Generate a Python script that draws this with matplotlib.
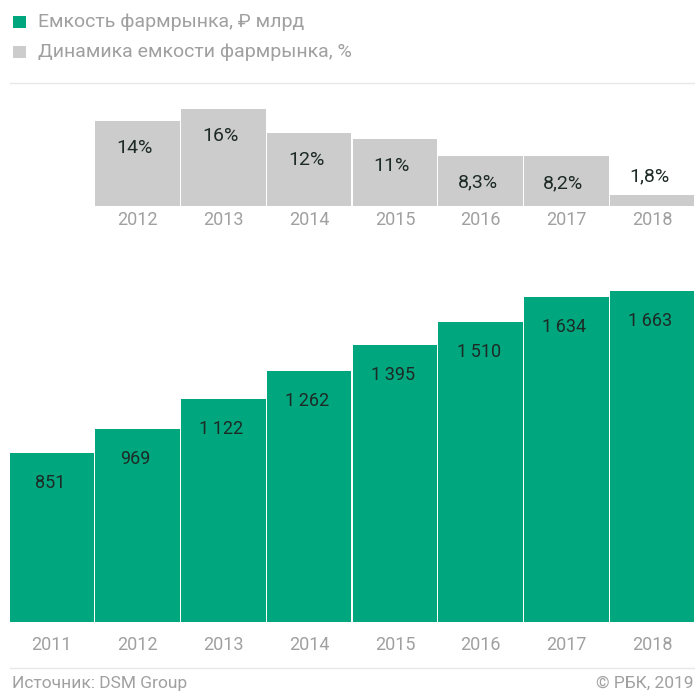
import matplotlib
matplotlib.use("Agg")
import matplotlib.pyplot as plt
from matplotlib.patches import Rectangle
from matplotlib.lines import Line2D

plt.rcParams['font.family'] = ['Roboto', 'DejaVu Sans']

# ---- data ----
years_volume = ['2011', '2012', '2013', '2014', '2015', '2016', '2017', '2018']
volume = [851, 969, 1122, 1262, 1395, 1510, 1634, 1663]
volume_labels = ['851', '969', '1\u2009122', '1\u2009262', '1\u2009395', '1\u2009510', '1\u2009634', '1\u2009663']

years_growth = ['2012', '2013', '2014', '2015', '2016', '2017', '2018']
growth = [14, 16, 12, 11, 8.3, 8.2, 1.8]
growth_labels = ['14%', '16%', '12%', '11%', '8,3%', '8,2%', '1,8%']

legend_labels = ['Емкость фармрынка, \u20bd млрд', 'Динамика емкости фармрынка, %']
source_text = 'Источник: DSM Group'
copyright_text = '© РБК, 2019'

GREEN = '#00a67d'
GRAY = '#cccccc'
TEXT_GRAY = '#a0a0a0'
LABEL_DARK = '#1d2a26'

W, H = 695, 693
fig = plt.figure(figsize=(W / 100, H / 100), dpi=100)
fig.patch.set_facecolor('white')


def px_rect(left, top, right, bottom):
    return [left / W, (H - bottom) / H, (right - left) / W, (bottom - top) / H]


# ---- bottom chart ----
ax = fig.add_axes(px_rect(9, 284, 695, 622))
xpos = list(range(len(years_volume)))
ax.bar(xpos, volume, width=0.985, color=GREEN, linewidth=0)
ax.set_xlim(-0.5, len(years_volume) - 0.5)
ax.set_ylim(0, 1700)
for x, v, lab in zip(xpos, volume, volume_labels):
    ax.annotate(lab, (x, v), xytext=(-2, -30), textcoords='offset pixels',
                ha='center', va='center', fontsize=13, color=LABEL_DARK)
ax.set_xticks(xpos)
ax.set_xticklabels(years_volume, fontsize=13, color=TEXT_GRAY)
ax.tick_params(axis='x', length=0, pad=10)
ax.set_yticks([])
for s in ax.spines.values():
    s.set_visible(False)
ax.patch.set_alpha(0)

# ---- top chart ----
ax2 = fig.add_axes(px_rect(9, 96.6, 695, 206))
xpos2 = list(range(1, len(years_growth) + 1))
ax2.bar(xpos2, growth, width=0.985, color=GRAY, linewidth=0)
ax2.set_xlim(-0.5, len(years_volume) - 0.5)
ax2.set_ylim(0, 18)
for x, v, lab in zip(xpos2, growth, growth_labels):
    if v > 5:
        off = -27
    else:
        off = 19
    ax2.annotate(lab, (x, v), xytext=(-3, off), textcoords='offset pixels',
                 ha='center', va='center', fontsize=14, color=LABEL_DARK)
ax2.set_xticks(xpos2)
ax2.set_xticklabels(years_growth, fontsize=13, color=TEXT_GRAY)
ax2.tick_params(axis='x', length=0, pad=3.5)
ax2.set_yticks([])
for s in ax2.spines.values():
    s.set_visible(False)
ax2.patch.set_alpha(0)

# ---- legend ----
for i, (lab, col) in enumerate(zip(legend_labels, [GREEN, GRAY])):
    yc = 22 + 30 * i
    fig.patches.append(Rectangle((13 / W, (H - yc - 6) / H), 13 / W, 12 / H,
                                 transform=fig.transFigure, color=col, linewidth=0))
    fig.text(38 / W, (H - yc) / H, lab, ha='left', va='center',
             fontsize=14, color=TEXT_GRAY)

# separator lines
fig.add_artist(Line2D([10 / W, 1], [(H - 83) / H, (H - 83) / H],
                      transform=fig.transFigure, color='#e8e8e8', linewidth=1))
fig.add_artist(Line2D([10 / W, 1], [(H - 668) / H, (H - 668) / H],
                      transform=fig.transFigure, color='#e8e8e8', linewidth=1))

# footer
fig.text(12 / W, (H - 683.5) / H, source_text, ha='left', va='center',
         fontsize=12.5, color=TEXT_GRAY)
fig.text(694 / W, (H - 683.5) / H, copyright_text, ha='right', va='center',
         fontsize=12.5, color=TEXT_GRAY)

fig.savefig('out.png', dpi=100, facecolor='white')
